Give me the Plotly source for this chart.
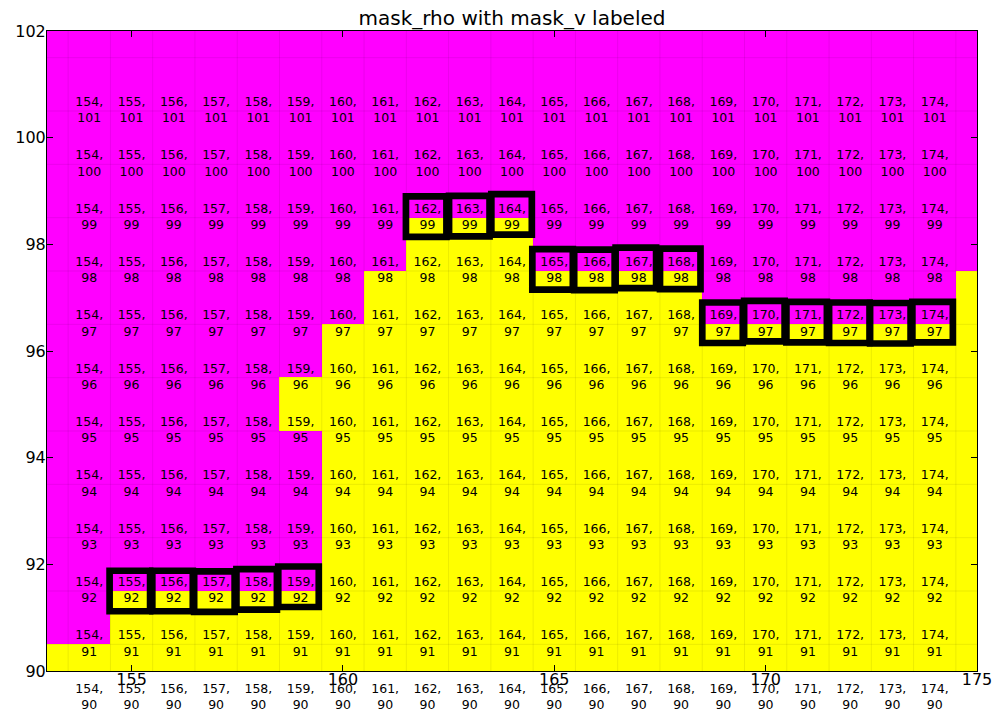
import plotly.graph_objects as go

# rho-point grid (cell centres)
lon_rho = list(range(153, 176))
lat_rho = list(range(90, 103))

# mask_rho rows, lat 90 .. 102, columns lon 153 .. 175 (1 = water/yellow, 0 = land/magenta)
mask_rho = [
    [1] * 23,                                   # 90
    [0] * 2 + [1] * 21,                         # 91
    [0] * 7 + [1] * 16,                         # 92
    [0] * 7 + [1] * 16,                         # 93
    [0] * 7 + [1] * 16,                         # 94
    [0] * 6 + [1] * 17,                         # 95
    [0] * 7 + [1] * 16,                         # 96
    [0] * 8 + [1] * 8 + [0] * 6 + [1] * 1,      # 97
    [0] * 9 + [1] * 3 + [0] * 11,               # 98
    [0] * 23,                                   # 99
    [0] * 23,                                   # 100
    [0] * 23,                                   # 101
    [0] * 23,                                   # 102
]

# index labels
label_i = list(range(154, 175))
label_j = list(range(90, 102))

# labelled mask_v points
v_lon = [154.96, 155.97, 156.96, 157.96, 158.95,
         161.97, 162.99, 163.99,
         164.96, 165.95, 166.93, 167.98,
         168.98, 169.97, 170.97, 171.98, 172.95, 173.95]
v_lat = [91.50, 91.50, 91.49, 91.53, 91.58,
         98.52, 98.53, 98.56,
         97.53, 97.52, 97.56, 97.54,
         96.53, 96.56, 96.54, 96.53, 96.52, 96.54]

FONT = "DejaVu Sans"
XR = [153, 175]
YR = [90, 102]
W, H = 1003, 723
M_L, M_R, M_T, M_B = 47, 26, 31, 0
PLOT_BOTTOM = 671  # pixel row of the lower spine

fig = go.Figure()

fig.add_trace(go.Heatmap(
    x=lon_rho, y=lat_rho, z=mask_rho,
    colorscale=[[0, "#FF00FF"], [1, "#FFFF00"]],
    zmin=0, zmax=1, showscale=False, hoverinfo="skip",
))

# faint cell edges
gx, gy = [], []
for e in [v + 0.5 for v in lon_rho[:-1]]:
    gx += [e, e, None]
    gy += [lat_rho[0] - 0.5, lat_rho[-1] + 0.5, None]
for e in [v + 0.5 for v in lat_rho[:-1]]:
    gx += [lon_rho[0] - 0.5, lon_rho[-1] + 0.5, None]
    gy += [e, e, None]
fig.add_trace(go.Scatter(
    x=gx, y=gy, mode="lines",
    line=dict(color="rgba(0,0,0,0.08)", width=1),
    hoverinfo="skip", showlegend=False,
))

# labels: inside the axes, and the row that falls below the axes (own strip subplot)
tx, ty, tt = [], [], []
bx, by, bt = [], [], []
for j in label_j:
    for i in label_i:
        if j - 0.5 >= YR[0]:
            tx.append(i); ty.append(j - 0.5); tt.append(f"{i},<br>{j}")
        else:
            bx.append(i); by.append(j - 0.5); bt.append(f"{i},<br>{j}")

textfont = dict(family=FONT, size=12.5, color="black")
fig.add_trace(go.Scatter(
    x=tx, y=ty, text=tt, mode="text", textposition="middle center",
    textfont=textfont, cliponaxis=False, hoverinfo="skip", showlegend=False,
))

fig.add_trace(go.Scatter(
    x=v_lon, y=v_lat, mode="markers",
    marker=dict(symbol="square-open", size=40.5, color="black",
                line=dict(color="black", width=6.7)),
    hoverinfo="skip", showlegend=False,
))

fig.add_trace(go.Scatter(
    x=bx, y=by, text=bt, mode="text", textposition="middle center",
    textfont=textfont, cliponaxis=False, hoverinfo="skip", showlegend=False,
    xaxis="x", yaxis="y2",
))

axis_common = dict(
    ticks="inside", ticklen=6, tickwidth=1, tickcolor="black",
    showline=True, linecolor="black", linewidth=1, mirror="ticks",
    showgrid=False, zeroline=False, automargin=False,
    tickfont=dict(family=FONT, size=16, color="black"),
)

plot_h = H - M_T - M_B
strip_px = H - M_B - PLOT_BOTTOM
strip_frac = strip_px / plot_h
px_per_unit = (PLOT_BOTTOM - M_T) / (YR[1] - YR[0])
strip_units = strip_px / px_per_unit

fig.update_layout(
    width=W, height=H, autosize=False,
    margin=dict(l=M_L, r=M_R, t=M_T, b=M_B, pad=0, autoexpand=False),
    paper_bgcolor="white", plot_bgcolor="white",
    showlegend=False,
    title=dict(text="mask_rho with mask_v labeled", x=0.5, xref="paper", xanchor="center",
               y=1 - 18 / H, yref="container", yanchor="middle",
               font=dict(family=FONT, size=20, color="black")),
    xaxis=dict(range=XR, tickvals=[155, 160, 165, 170, 175], anchor="y",
               ticklabelstandoff=-6, **axis_common),
    yaxis=dict(range=YR, tickvals=[90, 92, 94, 96, 98, 100, 102],
               domain=[strip_frac, 1], ticklabelstandoff=-3, **axis_common),
    yaxis2=dict(range=[YR[0] - strip_units, YR[0]], domain=[0, strip_frac],
                visible=False, anchor="x", fixedrange=True, automargin=False),
)

fig.write_html("out.html")
